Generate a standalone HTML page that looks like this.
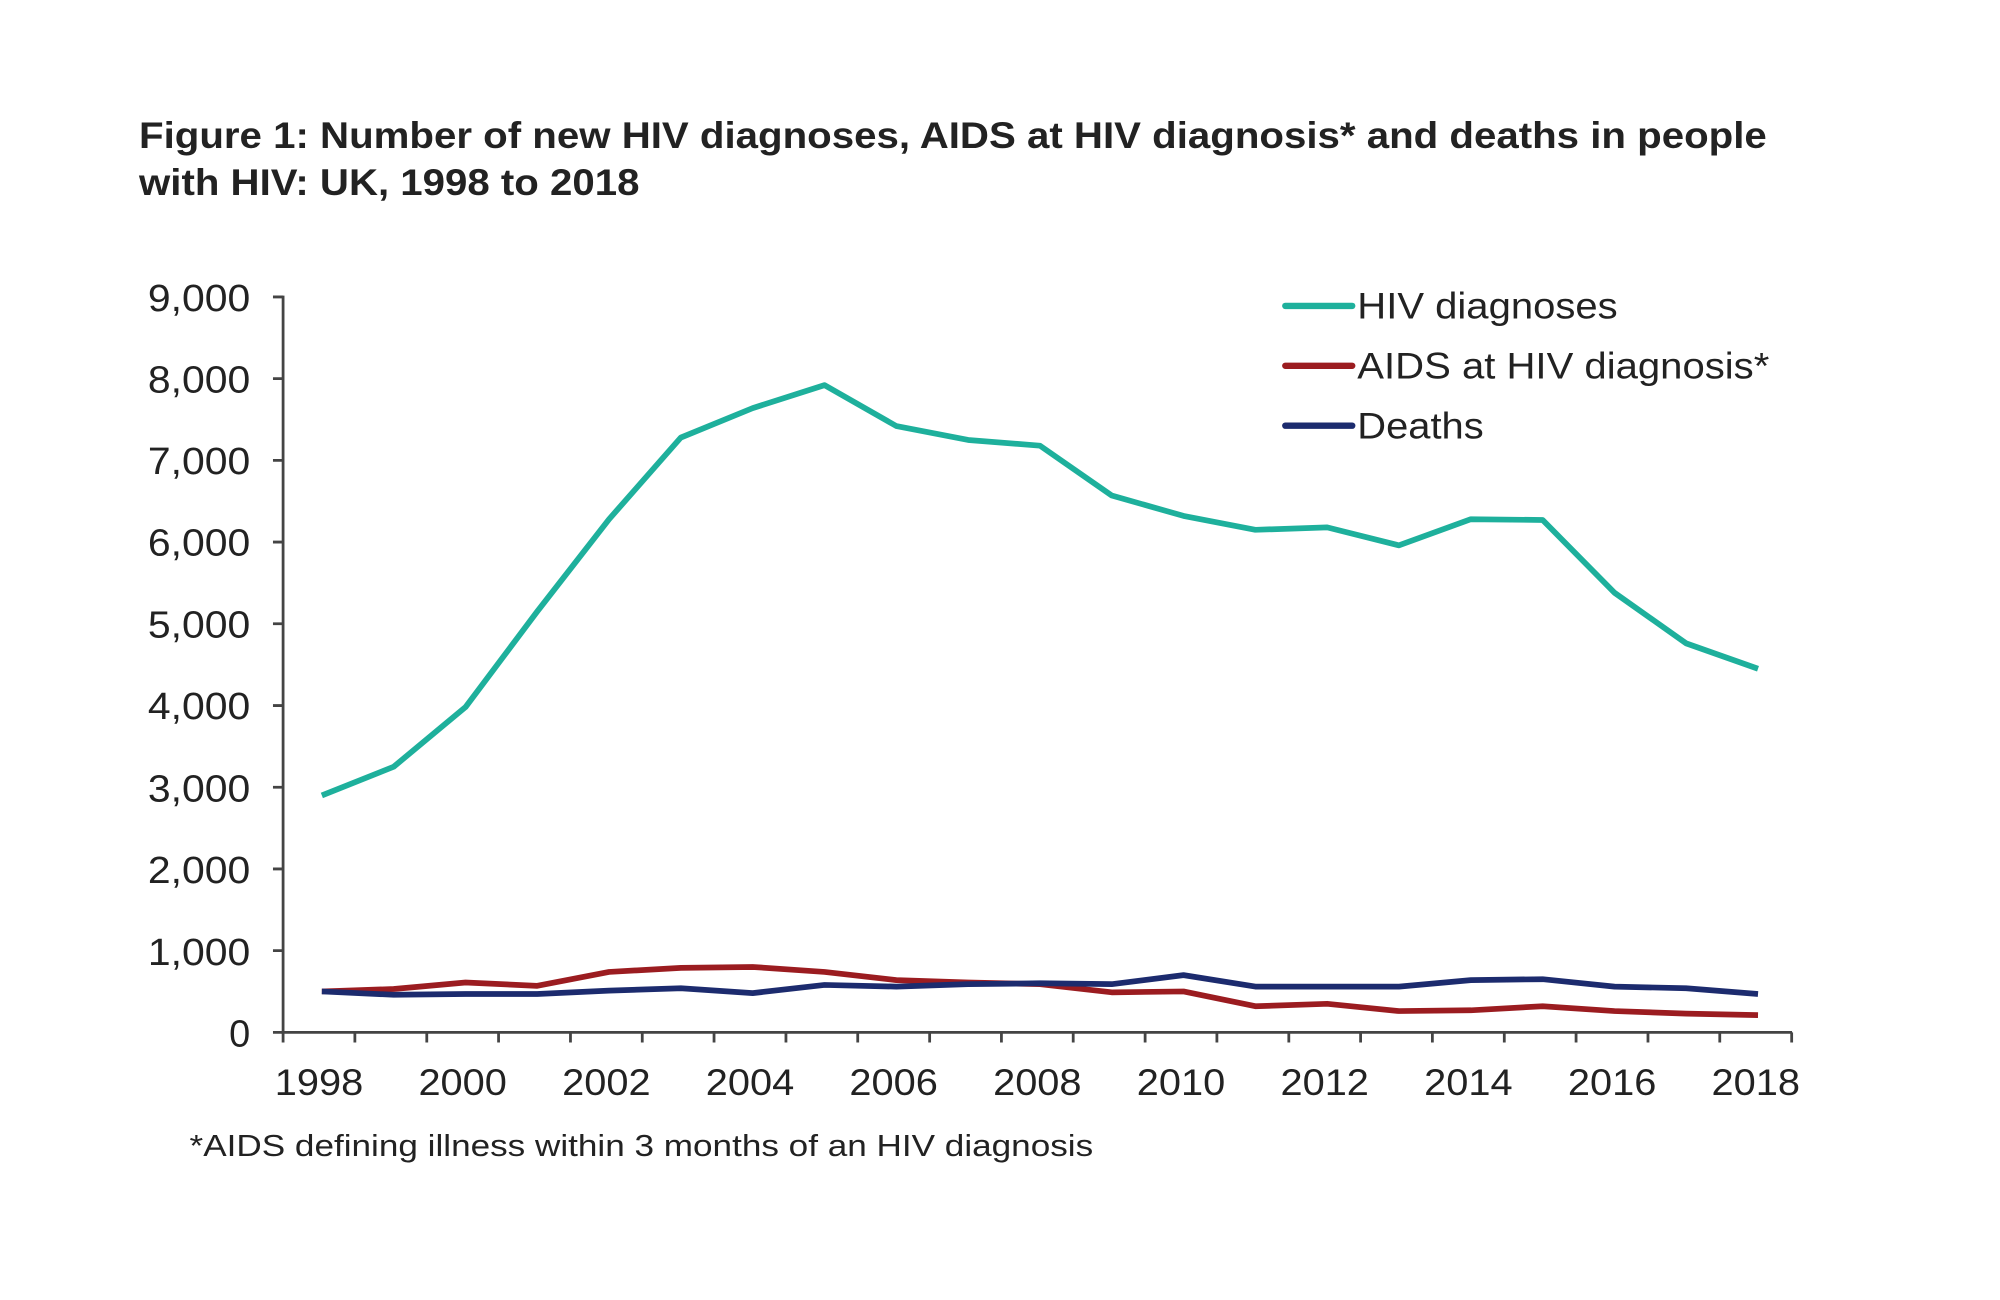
<!DOCTYPE html>
<html><head><meta charset="utf-8"><style>
html,body{margin:0;padding:0;background:#fff;}
svg{display:block;}
text{font-family:"Liberation Sans",Arial,sans-serif;fill:#222;}
</style></head><body>
<svg width="2000" height="1300" viewBox="0 0 1552 1020" preserveAspectRatio="none" xmlns="http://www.w3.org/2000/svg">
<rect width="1552" height="1020" fill="#fff"/>
<g transform="scale(0.9807,1)">
<text x="110" y="116" font-size="29" font-weight="bold" textLength="1288" lengthAdjust="spacingAndGlyphs">Figure 1: Number of new HIV diagnoses, AIDS at HIV diagnosis* and deaths in people</text>
<text x="110" y="153" font-size="29" font-weight="bold" textLength="396" lengthAdjust="spacingAndGlyphs">with HIV: UK, 1998 to 2018</text>
<g stroke="#444" stroke-width="2.2" fill="none">
<line x1="224" y1="232" x2="224" y2="811"/>
<line x1="223" y1="810" x2="1418" y2="810"/>
<path d="M216 233H224M216 297.1H224M216 361.2H224M216 425.3H224M216 489.4H224M216 553.6H224M216 617.7H224M216 681.8H224M216 745.9H224M216 810H224"/>
<path d="M224 810V818M280.8 810V818M337.7 810V818M394.5 810V818M451.4 810V818M508.2 810V818M565 810V818M621.9 810V818M678.7 810V818M735.6 810V818M792.4 810V818M849.2 810V818M906.1 810V818M962.9 810V818M1019.8 810V818M1076.6 810V818M1133.4 810V818M1190.3 810V818M1247.1 810V818M1304 810V818M1360.8 810V818M1417.7 810V818"/>
</g>
<g font-size="30" text-anchor="end">
<text x="198" y="244" textLength="81" lengthAdjust="spacingAndGlyphs">9,000</text><text x="198" y="308" textLength="81" lengthAdjust="spacingAndGlyphs">8,000</text><text x="198" y="372" textLength="81" lengthAdjust="spacingAndGlyphs">7,000</text><text x="198" y="436" textLength="81" lengthAdjust="spacingAndGlyphs">6,000</text><text x="198" y="500" textLength="81" lengthAdjust="spacingAndGlyphs">5,000</text><text x="198" y="564" textLength="81" lengthAdjust="spacingAndGlyphs">4,000</text><text x="198" y="629" textLength="81" lengthAdjust="spacingAndGlyphs">3,000</text><text x="198" y="693" textLength="81" lengthAdjust="spacingAndGlyphs">2,000</text><text x="198" y="757" textLength="81" lengthAdjust="spacingAndGlyphs">1,000</text><text x="198" y="821">0</text>
</g>
<g font-size="29" text-anchor="middle">
<text x="252.4" y="859" textLength="70" lengthAdjust="spacingAndGlyphs">1998</text><text x="366.1" y="859" textLength="70" lengthAdjust="spacingAndGlyphs">2000</text><text x="479.8" y="859" textLength="70" lengthAdjust="spacingAndGlyphs">2002</text><text x="593.5" y="859" textLength="70" lengthAdjust="spacingAndGlyphs">2004</text><text x="707.1" y="859" textLength="70" lengthAdjust="spacingAndGlyphs">2006</text><text x="820.8" y="859" textLength="70" lengthAdjust="spacingAndGlyphs">2008</text><text x="934.5" y="859" textLength="70" lengthAdjust="spacingAndGlyphs">2010</text><text x="1048.2" y="859" textLength="70" lengthAdjust="spacingAndGlyphs">2012</text><text x="1161.9" y="859" textLength="70" lengthAdjust="spacingAndGlyphs">2014</text><text x="1275.6" y="859" textLength="70" lengthAdjust="spacingAndGlyphs">2016</text><text x="1389.3" y="859" textLength="70" lengthAdjust="spacingAndGlyphs">2018</text>
</g>
<text x="150" y="907" font-size="24" fill="#333" textLength="715" lengthAdjust="spacingAndGlyphs">*AIDS defining illness within 3 months of an HIV diagnosis</text>
<g fill="none" stroke-width="4.5" stroke-linejoin="round" transform="translate(2.2,0) scale(1.0095,1)">
<polyline stroke="#9b1c20" points="250.1,777.9 306.4,776 362.7,770.9 418.9,773.5 475.2,762.6 531.5,759.4 587.8,758.7 644.1,762.6 700.4,769 756.7,770.9 813,772.2 869.2,778.6 925.5,777.9 981.8,789.5 1038.1,787.6 1094.4,793.3 1150.7,792.7 1207,789.5 1263.3,793.3 1319.5,795.3 1375.8,796.5"/>
<polyline stroke="#1c2b6e" points="250.1,777.9 306.4,780.5 362.7,779.9 418.9,779.9 475.2,777.3 531.5,775.4 587.8,779.2 644.1,772.8 700.4,774.1 756.7,772.2 813,771.5 869.2,772.2 925.5,765.1 981.8,774.1 1038.1,774.1 1094.4,774.1 1150.7,769 1207,768.3 1263.3,774.1 1319.5,775.4 1375.8,779.9"/>
<polyline stroke="#1eb09c" points="250.1,624.1 306.4,601.6 362.7,554.8 418.9,479.8 475.2,407.4 531.5,343.3 587.8,320.2 644.1,302.2 700.4,334.3 756.7,345.2 813,349.7 869.2,388.8 925.5,404.8 981.8,415.7 1038.1,413.8 1094.4,427.9 1150.7,407.4 1207,408 1263.3,465.1 1319.5,504.8 1375.8,524.7"/>
</g>
<g stroke-width="5" stroke-linecap="round">
<line x1="1017" y1="240" x2="1070" y2="240" stroke="#1eb09c"/>
<line x1="1017" y1="287" x2="1070" y2="287" stroke="#9b1c20"/>
<line x1="1017" y1="334" x2="1070" y2="334" stroke="#1c2b6e"/>
</g>
<g font-size="29">
<text x="1074" y="250" textLength="206" lengthAdjust="spacingAndGlyphs">HIV diagnoses</text>
<text x="1074" y="297" textLength="326" lengthAdjust="spacingAndGlyphs">AIDS at HIV diagnosis*</text>
<text x="1074" y="344" textLength="100" lengthAdjust="spacingAndGlyphs">Deaths</text>
</g>
</g>
</svg>
</body></html>
